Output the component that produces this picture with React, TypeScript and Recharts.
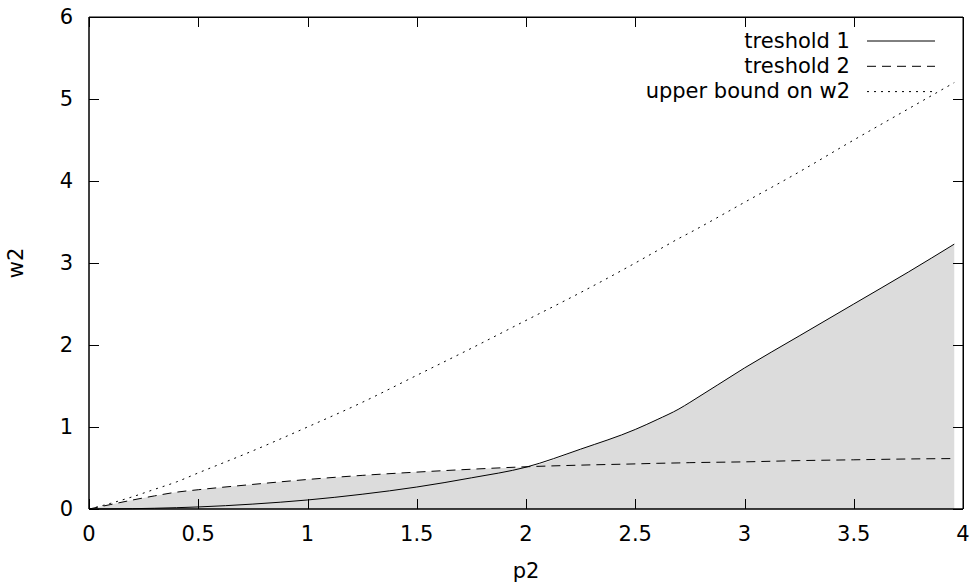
import React from "react";
import {
  ComposedChart,
  Area,
  Line,
  XAxis,
  YAxis,
  Legend,
  ReferenceArea,
} from "recharts";

const p2 = [0, 0.1, 0.2, 0.3, 0.4, 0.5, 0.75, 1, 1.25, 1.5, 1.75, 2, 2.25, 2.5, 2.6, 2.7, 2.75, 3, 3.25, 3.5, 3.75, 3.96];
const treshold1 = [0, 0.001, 0.004, 0.009, 0.016, 0.025, 0.06, 0.11, 0.18, 0.268, 0.38, 0.51, 0.73, 0.97, 1.09, 1.22, 1.3, 1.72, 2.11, 2.5, 2.89, 3.23];
const treshold2 = [0, 0.055, 0.11, 0.16, 0.205, 0.235, 0.3, 0.36, 0.41, 0.45, 0.485, 0.515, 0.535, 0.55, 0.557, 0.562, 0.565, 0.575, 0.59, 0.6, 0.61, 0.615];
const upperBound = [0, 0.07, 0.15, 0.24, 0.33, 0.44, 0.71, 1.0, 1.3, 1.63, 1.96, 2.3, 2.64, 3.0, 3.15, 3.3, 3.37, 3.74, 4.11, 4.5, 4.88, 5.2];

const xTicks = [0, 0.5, 1, 1.5, 2, 2.5, 3, 3.5, 4];
const yTicks = [0, 1, 2, 3, 4, 5, 6];

const data = p2.map((x, i) => ({
  p2: x,
  t1: treshold1[i],
  t2: treshold2[i],
  ub: upperBound[i],
  region: Math.max(treshold1[i], treshold2[i]),
}));

const FONT = "DejaVu Sans";
const FS = 21;
const TICK_LEN = 10;

// chart box
const W = 975;
const H = 587;
const MARGIN = { top: 17, right: 12, left: 0, bottom: 0 };
const X_MARGIN = 17;
const Y_MARGIN = 16;
const PLOT_TOP = MARGIN.top;
const PLOT_RIGHT = W - MARGIN.right;

const px = (v: number) => Math.round(v) + 0.5;

// gnuplot style: inward ticks, mirrored on the opposite border
const BottomTick = (props: any) => {
  const { x, y, payload } = props;
  const axisY = y - X_MARGIN;
  const cx = px(x);
  const last = Number(payload.value) === xTicks[xTicks.length - 1];
  return (
    <g>
      <path
        d={`M${cx},${axisY}v${-TICK_LEN}M${cx},${PLOT_TOP}v${TICK_LEN}`}
        stroke="#000"
        strokeWidth={1}
        fill="none"
        shapeRendering="crispEdges"
      />
      {last && (
        <path d={`M${cx},${PLOT_TOP}V${axisY}`} stroke="#000" strokeWidth={1} fill="none" shapeRendering="crispEdges" />
      )}
      <text x={x} y={y} dy="0.71em" textAnchor="middle" fill="#000" fontSize={FS} fontFamily={FONT}>
        {payload.value}
      </text>
    </g>
  );
};

const LeftTick = (props: any) => {
  const { x, y, payload } = props;
  const axisX = x + Y_MARGIN;
  const cy = px(y);
  const last = Number(payload.value) === yTicks[yTicks.length - 1];
  return (
    <g>
      <path
        d={`M${axisX},${cy}h${TICK_LEN}M${PLOT_RIGHT},${cy}h${-TICK_LEN}`}
        stroke="#000"
        strokeWidth={1}
        fill="none"
        shapeRendering="crispEdges"
      />
      {last && (
        <path d={`M${axisX},${cy}H${PLOT_RIGHT}`} stroke="#000" strokeWidth={1} fill="none" shapeRendering="crispEdges" />
      )}
      <text x={x} y={y} dy="0.355em" textAnchor="end" fill="#000" fontSize={FS} fontFamily={FONT}>
        {payload.value}
      </text>
    </g>
  );
};

const YLabel = (props: any) => {
  const { viewBox } = props;
  const cx = 17;
  const cy = viewBox.y + viewBox.height / 2;
  return (
    <text
      x={cx}
      y={cy}
      dy="0.3em"
      textAnchor="middle"
      transform={`rotate(-90 ${cx} ${cy})`}
      fill="#000"
      fontSize={FS}
      fontFamily={FONT}
    >
      w2
    </text>
  );
};

const LegendBox = (props: any) => {
  const items = (props.payload || []).filter((p: any) => p.type !== "none");
  return (
    <svg width={360} height={85}>
      {items.map((entry: any, i: number) => {
        const cy = 16 + i * 25.3;
        return (
          <g key={entry.value}>
            <text x={250} y={cy} dy="0.32em" textAnchor="end" fill="#000" fontSize={FS} fontFamily={FONT}>
              {entry.value}
            </text>
            <line
              x1={267}
              x2={335}
              y1={cy}
              y2={cy}
              stroke="#000"
              strokeWidth={1}
              strokeDasharray={entry.payload?.strokeDasharray}
            />
          </g>
        );
      })}
    </svg>
  );
};

export default function App() {
  return (
    <div style={{ position: "absolute", left: 0, top: 0, width: W, height: H, background: "#fff" }}>
      <ComposedChart width={W} height={H} data={data} margin={MARGIN} style={{ fontFamily: FONT }}>
        <XAxis
          dataKey="p2"
          type="number"
          domain={[0, 4]}
          ticks={xTicks}
          height={78}
          tickSize={0}
          tickMargin={X_MARGIN}
          tick={<BottomTick />}
          axisLine={{ stroke: "#000" }}
          interval={0}
          label={{ value: "p2", position: "insideBottom", offset: 9, fill: "#000", fontSize: FS, fontFamily: FONT }}
        />
        <YAxis
          type="number"
          domain={[0, 6]}
          ticks={yTicks}
          width={89}
          tickSize={0}
          tickMargin={Y_MARGIN}
          tick={<LeftTick />}
          axisLine={{ stroke: "#000" }}
          interval={0}
          label={<YLabel />}
        />
        <Legend
          layout="vertical"
          align="center"
          verticalAlign="middle"
          content={<LegendBox />}
          wrapperStyle={{ top: 25, left: 600, width: 360, height: 85 }}
        />
        <Area
          dataKey="region"
          type="monotone"
          stroke="none"
          fill="#dcdcdc"
          fillOpacity={1}
          legendType="none"
          isAnimationActive={false}
        />
        <Line
          dataKey="t1"
          name="treshold 1"
          type="monotone"
          stroke="#000"
          strokeWidth={1}
          dot={false}
          isAnimationActive={false}
        />
        <Line
          dataKey="t2"
          name="treshold 2"
          type="monotone"
          stroke="#000"
          strokeWidth={1}
          strokeDasharray="9 6"
          dot={false}
          isAnimationActive={false}
        />
        <Line
          dataKey="ub"
          name="upper bound on w2"
          type="monotone"
          stroke="#000"
          strokeWidth={1}
          strokeDasharray="2 5"
          dot={false}
          isAnimationActive={false}
        />
        <ReferenceArea
          x1={0}
          x2={4}
          y1={0}
          y2={6}
          fill="none"
          fillOpacity={0}
          stroke="#000"
          strokeWidth={1}
          ifOverflow="visible"
        />
      </ComposedChart>
    </div>
  );
}
